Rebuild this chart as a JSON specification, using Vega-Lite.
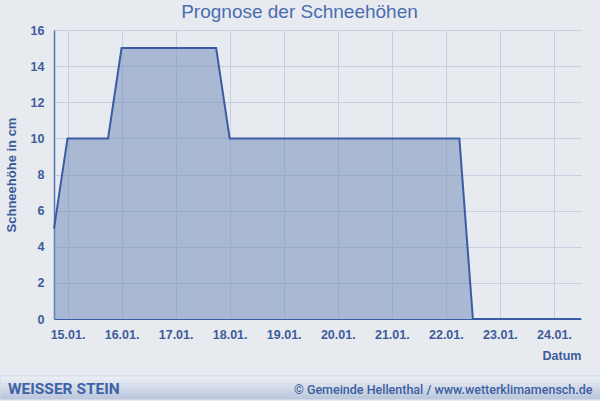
{
  "$schema": "https://vega.github.io/schema/vega-lite/v6.json",
  "width": 527,
  "height": 289,
  "autosize": {"type": "none"},
  "padding": {"left": 54, "top": 30, "right": 19, "bottom": 82},
  "background": "#e7eaee",
  "title": {
    "text": "Prognose der Schneehöhen",
    "font": "Liberation Sans",
    "fontSize": 19,
    "fontWeight": "normal",
    "color": "#4a6db0",
    "anchor": "middle",
    "frame": "group",
    "dx": -18,
    "offset": 2
  },
  "config": {
    "view": {"stroke": null},
    "axis": {
      "labelFont": "Liberation Sans",
      "titleFont": "Liberation Sans",
      "labelColor": "#3d5c9c",
      "titleColor": "#3d5c9c",
      "labelFontWeight": "bold",
      "titleFontWeight": "bold",
      "gridColor": "#c6cfdf",
      "gridOpacity": 1,
      "ticks": false
    }
  },
  "resolve": {"axis": {"x": "independent", "y": "independent"}},
  "layer": [
    {
      "data": {
        "values": [
          {"zeit": "2025-01-14T18:00:00Z", "schnee": 5},
          {"zeit": "2025-01-15T00:00:00Z", "schnee": 10},
          {"zeit": "2025-01-15T06:00:00Z", "schnee": 10},
          {"zeit": "2025-01-15T12:00:00Z", "schnee": 10},
          {"zeit": "2025-01-15T18:00:00Z", "schnee": 10},
          {"zeit": "2025-01-16T00:00:00Z", "schnee": 15},
          {"zeit": "2025-01-16T06:00:00Z", "schnee": 15},
          {"zeit": "2025-01-16T12:00:00Z", "schnee": 15},
          {"zeit": "2025-01-16T18:00:00Z", "schnee": 15},
          {"zeit": "2025-01-17T00:00:00Z", "schnee": 15},
          {"zeit": "2025-01-17T06:00:00Z", "schnee": 15},
          {"zeit": "2025-01-17T12:00:00Z", "schnee": 15},
          {"zeit": "2025-01-17T18:00:00Z", "schnee": 15},
          {"zeit": "2025-01-18T00:00:00Z", "schnee": 10},
          {"zeit": "2025-01-18T06:00:00Z", "schnee": 10},
          {"zeit": "2025-01-18T12:00:00Z", "schnee": 10},
          {"zeit": "2025-01-18T18:00:00Z", "schnee": 10},
          {"zeit": "2025-01-19T00:00:00Z", "schnee": 10},
          {"zeit": "2025-01-19T06:00:00Z", "schnee": 10},
          {"zeit": "2025-01-19T12:00:00Z", "schnee": 10},
          {"zeit": "2025-01-19T18:00:00Z", "schnee": 10},
          {"zeit": "2025-01-20T00:00:00Z", "schnee": 10},
          {"zeit": "2025-01-20T06:00:00Z", "schnee": 10},
          {"zeit": "2025-01-20T12:00:00Z", "schnee": 10},
          {"zeit": "2025-01-20T18:00:00Z", "schnee": 10},
          {"zeit": "2025-01-21T00:00:00Z", "schnee": 10},
          {"zeit": "2025-01-21T06:00:00Z", "schnee": 10},
          {"zeit": "2025-01-21T12:00:00Z", "schnee": 10},
          {"zeit": "2025-01-21T18:00:00Z", "schnee": 10},
          {"zeit": "2025-01-22T00:00:00Z", "schnee": 10},
          {"zeit": "2025-01-22T06:00:00Z", "schnee": 10},
          {"zeit": "2025-01-22T12:00:00Z", "schnee": 0},
          {"zeit": "2025-01-22T18:00:00Z", "schnee": 0},
          {"zeit": "2025-01-23T00:00:00Z", "schnee": 0},
          {"zeit": "2025-01-23T06:00:00Z", "schnee": 0},
          {"zeit": "2025-01-23T12:00:00Z", "schnee": 0},
          {"zeit": "2025-01-23T18:00:00Z", "schnee": 0},
          {"zeit": "2025-01-24T00:00:00Z", "schnee": 0},
          {"zeit": "2025-01-24T06:00:00Z", "schnee": 0},
          {"zeit": "2025-01-24T12:00:00Z", "schnee": 0}
        ]
      },
      "encoding": {
        "x": {
          "field": "zeit",
          "type": "temporal",
          "scale": {
            "type": "utc",
            "domain": [
              {"year": 2025, "month": 1, "date": 14, "hours": 18, "utc": true},
              {"year": 2025, "month": 1, "date": 24, "hours": 12, "utc": true}
            ]
          },
          "axis": {
            "title": "Datum",
            "titleAnchor": "end",
            "titleFontSize": 12.5,
            "titlePadding": 9,
            "format": "%d.%m.",
            "labelFontSize": 12.5,
            "labelPadding": 9,
            "domainColor": "#3b5da5",
            "domainWidth": 1,
            "grid": true,
            "values": [
              {"year": 2025, "month": 1, "date": 15, "utc": true},
              {"year": 2025, "month": 1, "date": 16, "utc": true},
              {"year": 2025, "month": 1, "date": 17, "utc": true},
              {"year": 2025, "month": 1, "date": 18, "utc": true},
              {"year": 2025, "month": 1, "date": 19, "utc": true},
              {"year": 2025, "month": 1, "date": 20, "utc": true},
              {"year": 2025, "month": 1, "date": 21, "utc": true},
              {"year": 2025, "month": 1, "date": 22, "utc": true},
              {"year": 2025, "month": 1, "date": 23, "utc": true},
              {"year": 2025, "month": 1, "date": 24, "utc": true}
            ]
          }
        },
        "y": {
          "field": "schnee",
          "type": "quantitative",
          "scale": {"domain": [0, 16], "nice": false},
          "axis": {
            "title": "Schneehöhe in cm",
            "titleFontSize": 13,
            "titlePadding": 12,
            "grid": true,
            "values": [0, 2, 4, 6, 8, 10, 12, 14, 16],
            "labelFontSize": 12.5,
            "labelPadding": 10,
            "domainColor": "#5676b3",
            "domainWidth": 1.5
          }
        }
      },
      "layer": [
        {"mark": {"type": "area", "color": "#6d87b8", "opacity": 0.5, "interpolate": "linear"}},
        {"mark": {"type": "line", "color": "#3b5ca4", "strokeWidth": 2, "interpolate": "linear"}}
      ]
    },
    {
      "data": {"values": [{"feld": "banner"}]},
      "mark": {
        "type": "rect",
        "clip": false,
        "fill": {
          "gradient": "linear",
          "x1": 0, "y1": 0, "x2": 0, "y2": 1,
          "stops": [
            {"offset": 0, "color": "#edf0f5"},
            {"offset": 1, "color": "#b9c5dc"}
          ]
        },
        "stroke": "#cfd7e5",
        "strokeWidth": 1
      },
      "encoding": {
        "x": {"datum": {"year": 2025, "month": 1, "date": 13, "hours": 18, "utc": true}, "type": "temporal", "axis": null},
        "x2": {"datum": {"year": 2025, "month": 1, "date": 24, "hours": 21, "utc": true}},
        "y": {"datum": -3.15, "type": "quantitative", "axis": null},
        "y2": {"datum": -4.45}
      }
    },
    {
      "data": {"values": [{"feld": "links"}]},
      "mark": {
        "type": "text",
        "clip": false,
        "align": "left",
        "baseline": "alphabetic",
        "font": "Roboto",
        "fontWeight": "bold",
        "fontSize": 15.5,
        "color": "#3e64a7",
        "text": "WEISSER STEIN"
      },
      "encoding": {
        "x": {"datum": {"year": 2025, "month": 1, "date": 13, "hours": 21, "minutes": 34, "utc": true}, "type": "temporal", "axis": null},
        "y": {"datum": -4.17, "type": "quantitative", "axis": null}
      }
    },
    {
      "data": {"values": [{"feld": "rechts"}]},
      "mark": {
        "type": "text",
        "clip": false,
        "align": "right",
        "baseline": "alphabetic",
        "font": "Roboto",
        "fontWeight": 500,
        "fontSize": 12.5,
        "color": "#3e5f9f",
        "text": "© Gemeinde Hellenthal / www.wetterklimamensch.de"
      },
      "encoding": {
        "x": {"datum": {"year": 2025, "month": 1, "date": 24, "hours": 17, "minutes": 7, "utc": true}, "type": "temporal", "axis": null},
        "y": {"datum": -4.17, "type": "quantitative", "axis": null}
      }
    }
  ]
}
